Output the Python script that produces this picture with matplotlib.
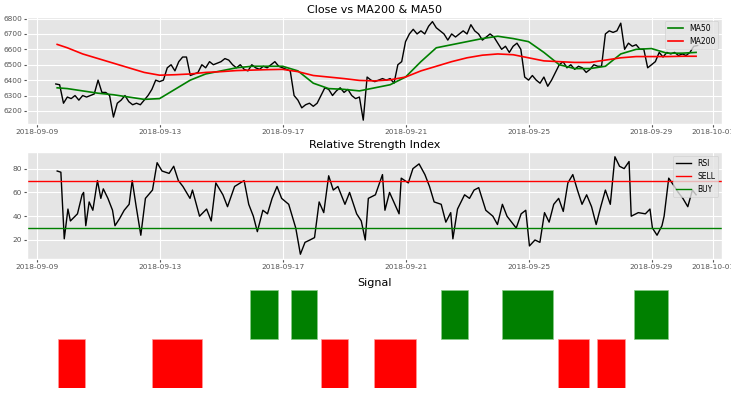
import matplotlib
matplotlib.use("Agg")
import matplotlib.pyplot as plt
import matplotlib.dates as mdates
import numpy as np
import pandas as pd

plt.style.use("ggplot")

base = pd.Timestamp("2018-09-09")

close_vals = [6375,6370,6250,6290,6280,6300,6270,
 6300,6290,6300,6310,6400,6320,6320,6300,
 6160,6250,6270,6300,6260,6240,6250,6240,
 6270,6300,6340,6400,6390,6400,6480,6500,
 6460,6520,6550,6550,6430,6440,6450,6500,
 6480,6520,6500,6510,6520,6540,6530,6500,
 6480,6500,6470,6460,6500,6480,6470,6490,
 6480,6500,6520,6490,6480,6470,6460,6300,
 6270,6220,6240,6250,6230,6250,6300,6350,
 6340,6300,6330,6350,6320,6340,6300,6280,
 6290,6140,6420,6400,6390,6400,6410,6400,
 6410,6380,6500,6520,6650,6700,6730,6700,
 6720,6700,6750,6780,6740,6720,6700,6660,
 6700,6680,6700,6720,6700,6760,6720,6700,
 6660,6680,6700,6680,6640,6600,6620,6580,
 6620,6640,6600,6420,6400,6430,6400,6380,
 6420,6360,6400,6450,6500,6520,6480,6500,
 6470,6490,6480,6450,6470,6500,6490,6490,
 6700,6720,6710,6720,6770,6600,6640,6620,
 6630,6600,6600,6480,6500,6520,6580,6550,
 6580,6570,6580,6560,6570,6560,6580,6620,6625]
close_start_day = 0.625
close_step_hours = 3

ma_days = [0.67,1.0,1.5,2.0,2.5,3.0,3.5,4.0,4.5,5.0,5.5,6.0,6.5,7.0,7.5,8.0,8.5,9.0,9.5,10.0,10.5,11.0,11.5,12.0,12.5,13.0,13.5,14.0,14.5,15.0,15.5,16.0,16.5,17.0,17.5,18.0,18.5,19.0,19.5,20.0,20.5,21.0,21.45]
ma50 = [6350,6345,6330,6315,6305,6290,6275,6280,6340,6400,6440,6460,6480,6490,6490,6490,6460,6380,6345,6340,6330,6350,6370,6420,6520,6610,6630,6650,6670,6685,6670,6650,6580,6500,6475,6475,6490,6570,6600,6605,6575,6575,6580]
ma200 = [6632,6610,6570,6540,6510,6480,6450,6432,6435,6440,6450,6455,6462,6465,6468,6470,6455,6430,6420,6410,6398,6395,6402,6420,6460,6490,6520,6545,6562,6570,6565,6545,6525,6520,6515,6515,6530,6545,6553,6553,6553,6555,6555]

rsi_days = [0.67,0.79,0.90,1.02,1.10,1.33,1.48,1.53,1.60,1.71,1.83,1.98,2.09,2.17,2.32,2.47,2.55,2.70,2.85,3.01,3.11,3.24,3.39,3.54,3.77,3.92,4.08,4.31,4.46,4.61,4.76,4.99,5.07,5.30,5.53,5.68,5.83,6.06,6.21,6.44,6.75,6.90,7.05,7.18,7.36,7.51,7.66,7.82,7.97,8.20,8.43,8.58,8.73,8.89,9.04,9.19,9.34,9.50,9.65,9.80,10.03,10.18,10.41,10.56,10.69,10.79,11.02,11.25,11.33,11.48,11.79,11.86,12.09,12.24,12.44,12.63,12.78,12.93,13.16,13.31,13.47,13.54,13.69,13.92,14.08,14.23,14.38,14.61,14.84,14.99,15.15,15.30,15.45,15.60,15.76,15.91,16.03,16.21,16.37,16.52,16.67,16.82,16.98,17.13,17.28,17.44,17.59,17.74,17.89,18.05,18.20,18.35,18.50,18.66,18.81,18.96,19.11,19.27,19.34,19.57,19.80,19.95,20.03,20.18,20.34,20.41,20.56,20.72,20.87,21.02,21.18,21.33,21.45]
rsi_vals = [78,77,21,46,36,42,58,60,32,52,45,70,55,63,55,45,32,38,45,50,70,48,24,55,62,85,78,76,82,70,65,55,62,40,46,36,68,58,48,65,70,50,40,27,45,42,55,65,55,50,30,8,18,20,22,52,43,74,62,65,50,60,42,36,20,55,58,75,45,60,42,72,68,80,84,75,65,52,50,35,43,21,46,58,55,62,64,45,40,33,50,40,35,30,42,45,15,20,18,43,35,50,55,44,68,75,62,50,58,48,33,48,62,50,90,82,80,86,40,43,42,46,30,24,32,40,72,66,60,55,48,62,58]

sell_level = 70
buy_level = 30

buy_periods = [(6.94,7.84),(8.28,9.11),(13.16,14.02),(15.15,16.79),(19.44,20.55)]
sell_periods = [(0.69,1.59),(3.74,5.37),(9.25,10.14),(10.99,12.33),(16.95,17.98),(18.23,19.15)]

def d(day):
    return base + pd.to_timedelta(np.asarray(day, dtype=float), unit="D")

close_t = base + pd.to_timedelta(close_start_day, unit="D") + pd.to_timedelta(np.arange(len(close_vals)) * close_step_hours, unit="h")

fig = plt.figure(figsize=(7.31, 4.0), dpi=100)
ax1 = fig.add_axes([0.037, 0.69, 0.951, 0.2675])
ax2 = fig.add_axes([0.037, 0.3525, 0.951, 0.2675])
ax3 = fig.add_axes([0.037, 0.03, 0.951, 0.245])

ax1.plot(close_t, close_vals, color="black", lw=1)
ax1.plot(d(ma_days), ma50, color="green", lw=1.2, label="MA50")
ax1.plot(d(ma_days), ma200, color="red", lw=1.2, label="MA200")
ax1.set_title("Close vs MA200 & MA50", fontsize=8, pad=3)
ax1.set_yticks([6200,6300,6400,6500,6600,6700,6800])
ax1.set_ylim(6115, 6810)
ax1.legend(fontsize=5.5, loc="upper right")

ax2.plot(d(rsi_days), rsi_vals, color="black", lw=1, label="RSI")
ax2.axhline(sell_level, color="red", lw=1, label="SELL")
ax2.axhline(buy_level, color="green", lw=1, label="BUY")
ax2.set_title("Relative Strength Index", fontsize=8, pad=3)
ax2.set_ylim(4, 94)
ax2.set_yticks([20,40,60,80])
ax2.legend(fontsize=5.5, loc="upper right")

for s, e in buy_periods:
    ax3.bar(mdates.date2num(d(s)), 1, width=e - s, bottom=1, align="edge", color="green", edgecolor="#88cc88", lw=0.5)
for s, e in sell_periods:
    ax3.bar(mdates.date2num(d(s)), 1, width=e - s, bottom=0, align="edge", color="red", edgecolor="#ff9999", lw=0.5)
ax3.set_ylim(0, 2)
ax3.axis("off")
ax3.set_title("Signal", fontsize=8, pad=3)

ticks = [d(x) for x in [0,4,8,12,16,20]] + [pd.Timestamp("2018-10-01")]
for ax in (ax1, ax2, ax3):
    ax.set_xlim(d(-0.31), d(22.3))
for ax in (ax1, ax2):
    ax.tick_params(labelsize=5.3, length=2, pad=1.5)
    ax.set_xticks(ticks)
    ax.xaxis.set_major_formatter(mdates.DateFormatter("%Y-%m-%d"))

fig.savefig("out.png", dpi=100)
